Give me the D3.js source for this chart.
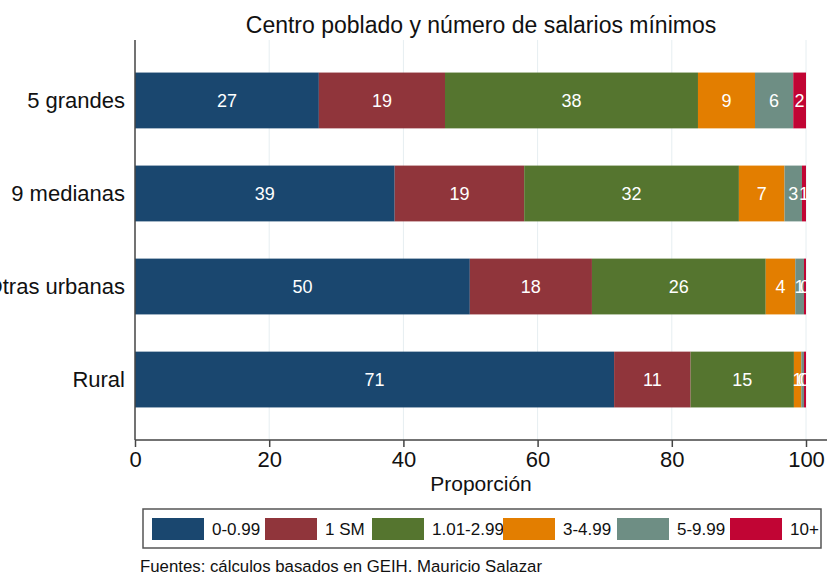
<!DOCTYPE html>
<html>
<head>
<meta charset="utf-8">
<title>Centro poblado y número de salarios mínimos</title>
<script src="https://d3js.org/d3.v7.min.js"></script>
<style type="text/css">
body { margin:0; background:#fff; }
svg text { font-family: "Liberation Sans", Arial, sans-serif; }
</style>
</head>
<body>
<svg id="chart" width="827" height="576"></svg>
<script>
// datos (porcentajes por centro poblado)
var categorias = ["5 grandes", "9 medianas", "Otras urbanas", "Rural"];
var grupos = ["0-0.99", "1 SM", "1.01-2.99", "3-4.99", "5-9.99", "10+"];
var v_0_099  = [27.4, 38.7, 49.9, 71.4];
var v_1sm    = [18.8, 19.3, 18.2, 11.4];
var v_101_299= [37.7, 32.0, 25.9, 15.4];
var v_3_499  = [8.5, 6.8, 4.4, 1.1];
var v_5_999  = [5.7, 2.6, 1.3, 0.4];
var v_10mas  = [1.9, 0.6, 0.3, 0.3];
var xTicks = [0, 20, 40, 60, 80, 100];
var colores = ["#1a476f", "#90353b", "#55752f", "#e37e00", "#6e8e84", "#c10534"];

var series = [v_0_099, v_1sm, v_101_299, v_3_499, v_5_999, v_10mas];
var tabla = categorias.map(function(c, i) {
  var fila = {cat: c};
  grupos.forEach(function(g, j) { fila[g] = series[j][i]; });
  return fila;
});

var svg = d3.select("#chart");
var pLeft = 135, pRight = 827, pTop = 40, pBottom = 440;

var x = d3.scaleLinear().domain([0, 100]).range([pLeft, 806]);
var y = d3.scaleBand().domain(categorias).range([pTop, pBottom]).paddingInner(0.4).paddingOuter(0.35);
var color = d3.scaleOrdinal().domain(grupos).range(colores);

// titulo
svg.append("text").attr("x", (pLeft + pRight) / 2).attr("y", 33)
  .attr("text-anchor", "middle").style("font-size", "23px").attr("fill", "#111")
  .text("Centro poblado y número de salarios mínimos");

// rejilla
svg.append("g").selectAll("line").data(xTicks.slice(1)).enter().append("line")
  .attr("x1", function(d) { return x(d); }).attr("x2", function(d) { return x(d); })
  .attr("y1", pTop).attr("y2", pBottom)
  .attr("stroke", "#e6eef1").attr("stroke-width", 1);

// barras apiladas
var apilado = d3.stack().keys(grupos)(tabla);
var capas = svg.append("g").selectAll("g").data(apilado).enter().append("g")
  .attr("fill", function(d) { return color(d.key); });
capas.selectAll("rect").data(function(d) { return d; }).enter().append("rect")
  .attr("x", function(d) { return x(d[0]); })
  .attr("width", function(d) { return x(d[1]) - x(d[0]); })
  .attr("y", function(d) { return y(d.data.cat); })
  .attr("height", y.bandwidth());
capas.selectAll("text").data(function(d) { return d.map(function(p) { return {p: p, k: d.key}; }); })
  .enter().append("text")
  .attr("x", function(d) { return x((d.p[0] + d.p[1]) / 2); })
  .attr("y", function(d) { return y(d.p.data.cat) + y.bandwidth() / 2; })
  .attr("dy", "0.36em").attr("text-anchor", "middle")
  .attr("fill", "#fff").style("font-size", "18px")
  .text(function(d) { return Math.round(d.p.data[d.k]); });

// eje x
var ejeX = svg.append("g").attr("transform", "translate(0," + pBottom + ")")
  .call(d3.axisBottom(x).tickValues(xTicks).tickSize(7).tickPadding(4));
ejeX.select(".domain").attr("d", "M" + pLeft + ",0H" + pRight).attr("stroke", "#444").attr("stroke-width", 1.5);
ejeX.selectAll(".tick line").attr("stroke", "#444").attr("stroke-width", 1.5);
ejeX.selectAll(".tick text").style("font-size", "22px").attr("fill", "#111")
  .style("font-family", "'Liberation Sans', Arial, sans-serif");

svg.append("text").attr("x", (pLeft + pRight) / 2).attr("y", 491)
  .attr("text-anchor", "middle").style("font-size", "21px").attr("fill", "#111")
  .text("Proporción");

// eje y
var ejeY = svg.append("g").attr("transform", "translate(" + pLeft + ",0)")
  .call(d3.axisLeft(y).tickSize(0).tickPadding(10));
ejeY.select(".domain").attr("d", "M0," + pTop + "V" + pBottom).attr("stroke", "#444").attr("stroke-width", 1.5);
ejeY.selectAll(".tick text").style("font-size", "22px").attr("fill", "#111")
  .style("font-family", "'Liberation Sans', Arial, sans-serif");

// leyenda
var legX = [152, 265, 372, 503, 617, 730];
var leyenda = svg.append("g");
leyenda.append("rect").attr("x", 143).attr("y", 509).attr("width", 678).attr("height", 39)
  .attr("fill", "#fff").attr("stroke", "#555").attr("stroke-width", 1.5);
var item = leyenda.selectAll("g.item").data(grupos).enter().append("g").attr("class", "item")
  .attr("transform", function(d, i) { return "translate(" + legX[i] + ",518)"; });
item.append("rect").attr("width", 52).attr("height", 22).attr("fill", function(d) { return color(d); });
item.append("text").attr("x", 60).attr("y", 11).attr("dy", "0.36em")
  .style("font-size", "17px").attr("fill", "#111").text(function(d) { return d; });

// fuente
svg.append("text").attr("x", 140).attr("y", 572).style("font-size", "16.8px").attr("fill", "#111")
  .text("Fuentes: cálculos basados en GEIH. Mauricio Salazar");
</script>
</body>
</html>
